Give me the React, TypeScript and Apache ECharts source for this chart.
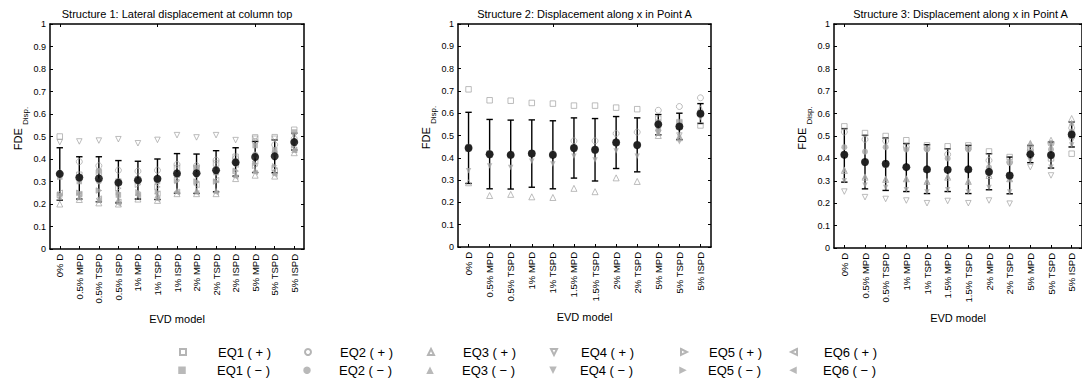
import React, { useEffect, useRef } from "react";
import * as echarts from "echarts";

// ---------- categories ----------
const cats1 = ["0% D", "0.5% MPD", "0.5% TSPD", "0.5% ISPD", "1% MPD", "1% TSPD", "1% ISPD", "2% MPD", "2% TSPD", "2% ISPD", "5% MPD", "5% TSPD", "5% ISPD"];
const cats2 = ["0% D", "0.5% MPD", "0.5% TSPD", "1% MPD", "1% TSPD", "1.5% MPD", "1.5% TSPD", "2% MPD", "2% TSPD", "5% MPD", "5% TSPD", "5% ISPD"];
const cats3 = ["0% D", "0.5% MPD", "0.5% TSPD", "1% MPD", "1% TSPD", "1.5% MPD", "1.5% TSPD", "2% MPD", "2% TSPD", "5% MPD", "5% TSPD", "5% ISPD"];

const titles = [
  "Structure 1: Lateral displacement at column top",
  "Structure 2: Displacement along x in Point A",
  "Structure 3: Displacement along x in Point A",
];

const yTicks = ["0", "0.1", "0.2", "0.3", "0.4", "0.5", "0.6", "0.7", "0.8", "0.9", "1"];

// ---------- Structure 1 ----------
const mean1 = [0.334, 0.318, 0.313, 0.295, 0.306, 0.312, 0.336, 0.337, 0.35, 0.385, 0.409, 0.412, 0.475];
const upper1 = [0.45, 0.41, 0.41, 0.393, 0.39, 0.4, 0.424, 0.422, 0.437, 0.45, 0.478, 0.485, 0.515];
const lower1 = [0.217, 0.222, 0.21, 0.205, 0.222, 0.22, 0.248, 0.247, 0.254, 0.324, 0.34, 0.339, 0.44];
const p1_eq1p = [0.5, 0.33, 0.34, 0.3, 0.31, 0.31, 0.36, 0.36, 0.38, 0.41, 0.496, 0.497, 0.53];
const p1_eq2p = [0.33, 0.388, 0.37, 0.35, 0.346, 0.35, 0.376, 0.37, 0.395, 0.403, 0.478, 0.463, 0.49];
const p1_eq3p = [0.2, 0.22, 0.205, 0.2, 0.222, 0.216, 0.246, 0.246, 0.246, 0.313, 0.328, 0.324, 0.428];
const p1_eq4p = [0.475, 0.478, 0.482, 0.488, 0.47, 0.485, 0.506, 0.496, 0.506, 0.484, 0.49, 0.49, 0.505];
const p1_eq5p = [0.24, 0.25, 0.26, 0.27, 0.286, 0.276, 0.306, 0.3, 0.3, 0.346, 0.37, 0.36, 0.46];
const p1_eq6p = [0.25, 0.245, 0.224, 0.21, 0.24, 0.246, 0.254, 0.285, 0.306, 0.375, 0.388, 0.346, 0.44];
const p1_eq1m = [0.32, 0.3, 0.347, 0.24, 0.3, 0.3, 0.328, 0.36, 0.34, 0.39, 0.46, 0.44, 0.52];
const p1_eq2m = [0.34, 0.32, 0.3, 0.3, 0.3, 0.31, 0.33, 0.33, 0.34, 0.38, 0.42, 0.43, 0.48];
const p1_eq3m = [0.23, 0.23, 0.22, 0.22, 0.25, 0.24, 0.26, 0.26, 0.26, 0.33, 0.35, 0.34, 0.44];
const p1_eq4m = [0.33, 0.31, 0.3, 0.29, 0.3, 0.3, 0.33, 0.33, 0.35, 0.38, 0.41, 0.41, 0.47];
const p1_eq5m = [0.245, 0.25, 0.26, 0.25, 0.254, 0.254, 0.3, 0.3, 0.3, 0.35, 0.38, 0.37, 0.46];
const p1_eq6m = [0.24, 0.24, 0.22, 0.2, 0.24, 0.22, 0.25, 0.25, 0.25, 0.32, 0.34, 0.33, 0.44];

// ---------- Structure 2 ----------
const mean2 = [0.444, 0.416, 0.413, 0.419, 0.413, 0.444, 0.436, 0.469, 0.457, 0.55, 0.54, 0.598];
const upper2 = [0.604, 0.572, 0.569, 0.57, 0.566, 0.579, 0.576, 0.585, 0.579, 0.594, 0.6, 0.643];
const lower2 = [0.285, 0.261, 0.26, 0.268, 0.261, 0.309, 0.296, 0.352, 0.337, 0.503, 0.482, 0.554];
const p2_eq1p = [0.707, 0.658, 0.656, 0.646, 0.643, 0.634, 0.634, 0.625, 0.618, 0.575, 0.56, 0.545];
const p2_eq2p = [0.444, 0.42, 0.413, 0.42, 0.42, 0.476, 0.476, 0.509, 0.515, 0.613, 0.63, 0.669];
const p2_eq3p = [0.288, 0.231, 0.236, 0.225, 0.222, 0.263, 0.248, 0.31, 0.294, 0.5, 0.49, 0.62];
const p2_eq4p = [0.444, 0.416, 0.413, 0.419, 0.413, 0.444, 0.436, 0.469, 0.457, 0.512, 0.5, 0.598];
const p2_eq5p = [0.44, 0.42, 0.41, 0.42, 0.41, 0.445, 0.436, 0.47, 0.457, 0.55, 0.54, 0.6];
const p2_eq6p = [0.445, 0.415, 0.415, 0.418, 0.414, 0.443, 0.437, 0.468, 0.458, 0.548, 0.54, 0.597];
const p2_eq1m = [0.45, 0.413, 0.41, 0.42, 0.413, 0.44, 0.433, 0.47, 0.455, 0.56, 0.557, 0.6];
const p2_eq2m = [0.44, 0.418, 0.415, 0.42, 0.416, 0.446, 0.44, 0.465, 0.46, 0.524, 0.54, 0.59];
const p2_eq3m = [0.442, 0.414, 0.413, 0.418, 0.412, 0.442, 0.434, 0.468, 0.456, 0.512, 0.5, 0.6];
const p2_eq4m = [0.342, 0.363, 0.357, 0.384, 0.372, 0.407, 0.39, 0.431, 0.407, 0.524, 0.472, 0.58];
const p2_eq5m = [0.444, 0.416, 0.413, 0.42, 0.413, 0.444, 0.436, 0.469, 0.457, 0.55, 0.54, 0.598];
const p2_eq6m = [0.445, 0.417, 0.414, 0.419, 0.413, 0.444, 0.436, 0.469, 0.457, 0.55, 0.54, 0.598];

// ---------- Structure 3 ----------
const mean3 = [0.416, 0.384, 0.376, 0.361, 0.351, 0.349, 0.351, 0.34, 0.324, 0.418, 0.415, 0.507];
const upper3 = [0.533, 0.503, 0.491, 0.466, 0.461, 0.443, 0.458, 0.421, 0.406, 0.458, 0.473, 0.563];
const lower3 = [0.294, 0.264, 0.257, 0.252, 0.243, 0.252, 0.243, 0.26, 0.242, 0.381, 0.357, 0.451];
const p3_eq1p = [0.543, 0.513, 0.5, 0.481, 0.458, 0.454, 0.458, 0.431, 0.406, 0.44, 0.4, 0.421];
const p3_eq2p = [0.518, 0.485, 0.478, 0.451, 0.443, 0.418, 0.443, 0.391, 0.384, 0.436, 0.466, 0.536];
const p3_eq3p = [0.346, 0.316, 0.306, 0.309, 0.297, 0.316, 0.297, 0.324, 0.309, 0.466, 0.481, 0.578];
const p3_eq4p = [0.252, 0.227, 0.219, 0.212, 0.2, 0.21, 0.2, 0.212, 0.198, 0.361, 0.324, 0.48];
const p3_eq5p = [0.416, 0.384, 0.376, 0.361, 0.351, 0.349, 0.351, 0.34, 0.324, 0.418, 0.415, 0.507];
const p3_eq6p = [0.415, 0.385, 0.375, 0.362, 0.35, 0.35, 0.35, 0.341, 0.325, 0.419, 0.414, 0.506];
const p3_eq1m = [0.42, 0.38, 0.37, 0.36, 0.35, 0.35, 0.35, 0.34, 0.32, 0.42, 0.41, 0.5];
const p3_eq2m = [0.45, 0.43, 0.45, 0.44, 0.44, 0.4, 0.44, 0.36, 0.38, 0.43, 0.44, 0.52];
const p3_eq3m = [0.35, 0.32, 0.31, 0.31, 0.3, 0.32, 0.3, 0.33, 0.31, 0.47, 0.47, 0.56];
const p3_eq4m = [0.3, 0.28, 0.27, 0.26, 0.25, 0.26, 0.25, 0.27, 0.25, 0.39, 0.36, 0.46];
const p3_eq5m = [0.416, 0.384, 0.376, 0.361, 0.351, 0.349, 0.351, 0.34, 0.324, 0.418, 0.415, 0.507];
const p3_eq6m = [0.417, 0.383, 0.377, 0.36, 0.352, 0.348, 0.352, 0.339, 0.323, 0.417, 0.416, 0.508];

// ---------- legend / series meta ----------
const eqNames = ["EQ1", "EQ2", "EQ3", "EQ4", "EQ5", "EQ6"];
// square, circle, up / down / right / left triangles
const eqSymbols = [
  "rect",
  "circle",
  "triangle",
  "path://M0,0L10,0L5,10Z",
  "path://M0,0L10,5L0,10Z",
  "path://M10,0L0,5L10,10Z",
];

const FONT = "'Liberation Sans', Arial, Helvetica, sans-serif";
const GREY_OPEN = "#a2a2a2";
const GREY_FILL = "#a8a8a8";

const panels = [
  { cats: cats1, mean: mean1, upper: upper1, lower: lower1,
    plus: [p1_eq1p, p1_eq2p, p1_eq3p, p1_eq4p, p1_eq5p, p1_eq6p],
    minus: [p1_eq1m, p1_eq2m, p1_eq3m, p1_eq4m, p1_eq5m, p1_eq6m] },
  { cats: cats2, mean: mean2, upper: upper2, lower: lower2,
    plus: [p2_eq1p, p2_eq2p, p2_eq3p, p2_eq4p, p2_eq5p, p2_eq6p],
    minus: [p2_eq1m, p2_eq2m, p2_eq3m, p2_eq4m, p2_eq5m, p2_eq6m] },
  { cats: cats3, mean: mean3, upper: upper3, lower: lower3,
    plus: [p3_eq1p, p3_eq2p, p3_eq3p, p3_eq4p, p3_eq5p, p3_eq6p],
    minus: [p3_eq1m, p3_eq2m, p3_eq3m, p3_eq4m, p3_eq5m, p3_eq6m] },
];

const grids = [
  { left: 50, top: 24, width: 254, height: 225 },
  { left: 458, top: 24, width: 253, height: 223 },
  { left: 834, top: 24, width: 253, height: 224 },
];

// legend layout: icon centre x and text start x for each column
const legendIconX = [182, 307, 430, 553, 683, 793];
const legendTextX = [217, 339, 462, 580, 708, 823];
const legendRowTop = [345, 364];
const legendIconSize = [6, 7.5];

function buildOption() {
  const xAxis: any[] = [];
  const yAxis: any[] = [];
  const series: any[] = [];
  const title: any[] = [];

  panels.forEach((p, i) => {
    const g = grids[i];
    title.push({
      text: titles[i],
      left: g.left + g.width / 2,
      top: 8,
      padding: 0,
      textAlign: "center",
      textStyle: { fontSize: 11, fontWeight: "normal", color: "#000", fontFamily: FONT },
    });
    xAxis.push({
      type: "category",
      gridIndex: i,
      data: p.cats,
      position: "bottom",
      boundaryGap: true,
      name: "EVD model",
      nameLocation: "middle",
      nameGap: 64,
      nameTextStyle: { fontSize: 11, color: "#000", fontFamily: FONT },
      axisLine: { show: true, lineStyle: { color: "#000", width: 1.5 } },
      axisTick: { show: true, inside: true, length: 3, alignWithLabel: true, lineStyle: { color: "#000", width: 1 } },
      axisLabel: { rotate: 90, interval: 0, fontSize: 9.5, color: "#000", margin: 5, fontFamily: FONT },
      splitLine: { show: false },
    });
    xAxis.push({
      type: "category",
      gridIndex: i,
      data: p.cats,
      position: "top",
      boundaryGap: true,
      axisLine: { show: true, onZero: false, lineStyle: { color: "#000", width: 1.5 } },
      axisTick: { show: true, inside: true, length: 3, alignWithLabel: true, lineStyle: { color: "#000", width: 1 } },
      axisLabel: { show: false },
      splitLine: { show: false },
    });
    yAxis.push({
      type: "value",
      gridIndex: i,
      min: 0,
      max: 1,
      interval: 0.1,
      position: "left",
      name: "{a|FDE }{b|Disp.}",
      nameLocation: "middle",
      nameRotate: 90,
      nameGap: 21,
      nameTextStyle: {
        color: "#000",
        fontFamily: FONT,
        padding: [0, 0, 0, 16],
        rich: {
          a: { fontSize: 11, lineHeight: 22, color: "#000", fontFamily: FONT },
          b: { fontSize: 8, lineHeight: 12, verticalAlign: "bottom", color: "#000", fontFamily: FONT },
        },
      },
      axisLine: { show: true, lineStyle: { color: "#000", width: 1.5 } },
      axisTick: { show: true, inside: true, length: 3, lineStyle: { color: "#000", width: 1 } },
      axisLabel: {
        fontSize: 9,
        color: "#000",
        margin: 4,
        fontFamily: FONT,
        formatter: (v: number) => yTicks[Math.round(v * 10)] ?? "",
      },
      splitLine: { show: false },
    });
    yAxis.push({
      type: "value",
      gridIndex: i,
      min: 0,
      max: 1,
      interval: 0.1,
      position: "right",
      axisLine: { show: true, onZero: false, lineStyle: { color: "#000", width: 1.5 } },
      axisTick: { show: true, inside: true, length: 3, lineStyle: { color: "#000", width: 1 } },
      axisLabel: { show: false },
      splitLine: { show: false },
    });

    const xi = 2 * i;
    const yi = 2 * i;

    // error bars
    series.push({
      type: "custom",
      xAxisIndex: xi,
      yAxisIndex: yi,
      z: 2,
      silent: true,
      data: p.cats.map((_, k) => [k, p.lower[k], p.upper[k]]),
      encode: { x: 0, y: [1, 2] },
      renderItem: (params: any, api: any) => {
        const x = api.value(0);
        const lo = api.coord([x, api.value(1)]);
        const hi = api.coord([x, api.value(2)]);
        const hw = 3.2;
        const st = { stroke: "#000", lineWidth: 1.4 };
        return {
          type: "group",
          children: [
            { type: "line", shape: { x1: lo[0], y1: lo[1], x2: hi[0], y2: hi[1] }, style: st },
            { type: "line", shape: { x1: lo[0] - hw, y1: lo[1], x2: lo[0] + hw, y2: lo[1] }, style: st },
            { type: "line", shape: { x1: hi[0] - hw, y1: hi[1], x2: hi[0] + hw, y2: hi[1] }, style: st },
          ],
        };
      },
    });

    // EQ markers
    for (let e = 0; e < 6; e++) {
      const size = e === 0 ? 5.5 : e >= 3 ? 5.5 : 6;
      series.push({
        type: "scatter",
        name: `${eqNames[e]} ( + )`,
        xAxisIndex: xi,
        yAxisIndex: yi,
        z: 3,
        symbol: eqSymbols[e],
        symbolSize: size,
        itemStyle: { color: "rgba(255,255,255,0)", borderColor: GREY_OPEN, borderWidth: 0.9 },
        data: p.plus[e],
        silent: true,
      });
      series.push({
        type: "scatter",
        name: `${eqNames[e]} ( − )`,
        xAxisIndex: xi,
        yAxisIndex: yi,
        z: 3,
        symbol: eqSymbols[e],
        symbolSize: size,
        itemStyle: { color: GREY_FILL, borderWidth: 0 },
        data: p.minus[e],
        silent: true,
      });
    }

    // mean
    series.push({
      type: "scatter",
      name: "Mean",
      xAxisIndex: xi,
      yAxisIndex: yi,
      z: 5,
      symbol: "circle",
      symbolSize: 8,
      itemStyle: { color: "#000" },
      data: p.mean,
      silent: true,
    });
  });

  const legend: any[] = [];
  for (let r = 0; r < 2; r++) {
    for (let c = 0; c < 6; c++) {
      const sz = legendIconSize[r];
      const pad = legendTextX[c] - (legendIconX[c] + sz / 2 + 5);
      legend.push({
        data: [{ name: `${eqNames[c]} ( ${r === 0 ? "+" : "−"} )`, icon: eqSymbols[c] }],
        left: legendIconX[c] - sz / 2,
        top: legendRowTop[r] + (7 - sz) / 2,
        padding: 0,
        itemWidth: sz,
        itemHeight: sz,
        selectedMode: false,
        textStyle: { fontSize: 13, color: "#000", fontFamily: FONT, padding: [0, 0, 0, pad] },
      });
    }
  }

  return {
    animation: false,
    backgroundColor: "#fff",
    textStyle: { fontFamily: FONT },
    title,
    grid: grids.map((g) => ({ ...g, containLabel: false })),
    xAxis,
    yAxis,
    legend,
    series,
  };
}

export default function App() {
  const ref = useRef<HTMLDivElement>(null);
  useEffect(() => {
    if (!ref.current) return;
    const chart = echarts.init(ref.current, undefined, { renderer: "svg" });
    chart.setOption(buildOption() as any);
    return () => chart.dispose();
  }, []);
  return (
    <div
      ref={ref}
      style={{ position: "absolute", left: 0, top: 0, width: 1082, height: 382, background: "#fff" }}
    />
  );
}
